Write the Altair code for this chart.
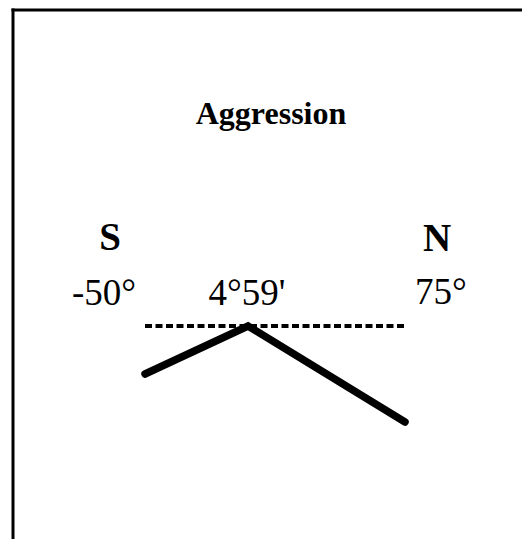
import altair as alt
import pandas as pd

# ---- data ----
LAT = [-50, 4 + 59 / 60, 75]          # latitude (degrees): south end, optimum, north end
AGG = [-1.0, 0.0, -2.0]               # relative aggression at those latitudes
REF_LEVEL = [0.0]                     # dashed reference level
LAT_LABELS = ["-50°", "4°59'", "75°"]
POLE_LABELS = ["S", "N"]
TITLE = "Aggression"

W, H = 509, 529
FONT = "Liberation Serif"

xscale = alt.Scale(domain=LAT, range=[132, 235, 392])
yscale = alt.Scale(domain=[-2, 0], range=[412, 316])

line_df = pd.DataFrame({"lat": LAT, "agg": AGG})
ref_df = pd.DataFrame({"lat": [LAT[0]], "lat2": [LAT[2]], "agg": REF_LEVEL})

X = alt.X("lat:Q", scale=xscale, axis=None)
Y = alt.Y("agg:Q", scale=yscale, axis=None)

ref = alt.Chart(ref_df).mark_rule(
    color="black", strokeWidth=4, strokeDash=[7, 3.5], strokeCap="butt"
).encode(x=X, x2="lat2:Q", y=Y)

line = alt.Chart(line_df).mark_line(
    color="black", strokeWidth=7.5, strokeCap="round", strokeJoin="miter"
).encode(x=X, y=Y)


def label(text, lat, dx, ypx, size, bold):
    df = pd.DataFrame({"lat": [lat], "t": [text]})
    return alt.Chart(df).mark_text(
        dx=dx, font=FONT, fontSize=size,
        fontWeight="bold" if bold else "normal",
        baseline="alphabetic", align="center", color="black",
    ).encode(x=X, y=alt.value(ypx), text="t:N")


texts = [
    label(POLE_LABELS[0], LAT[0], -35, 240, 39, True),
    label(POLE_LABELS[1], LAT[2], 32, 241, 39, True),
    label(LAT_LABELS[0], LAT[0], -41, 295, 37, False),
    label(LAT_LABELS[1], LAT[1], -1, 295, 37, False),
    label(LAT_LABELS[2], LAT[2], 36, 294, 37, False),
]

title = alt.Chart(pd.DataFrame({"t": [TITLE]})).mark_text(
    font=FONT, fontSize=32, fontWeight="bold", baseline="alphabetic",
    align="center", color="black",
).encode(x=alt.value(258), y=alt.value(114), text="t:N")

frame_df = pd.DataFrame({"k": [0]})
frame_top = alt.Chart(frame_df).mark_rule(
    color="black", strokeWidth=3, strokeCap="square"
).encode(x=alt.value(0), x2=alt.value(W), y=alt.value(0))
frame_left = alt.Chart(frame_df).mark_rule(
    color="black", strokeWidth=3, strokeCap="square"
).encode(x=alt.value(0), y=alt.value(0), y2=alt.value(H))

chart = alt.layer(
    frame_top, frame_left, ref, line, title, *texts
).properties(
    width=W, height=H,
    padding={"left": 5, "top": 2, "right": 0, "bottom": 0},
    autosize="none",
    background="white",
).configure_view(stroke=None)

chart.save("out.html", embed_options={"renderer": "svg", "actions": False})
